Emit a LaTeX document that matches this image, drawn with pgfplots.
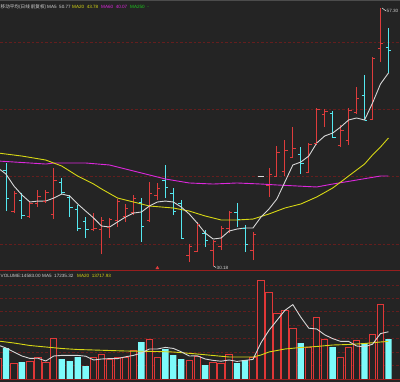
\documentclass[border=0pt]{standalone}
\usepackage{fontspec}
\setmainfont{Liberation Sans}
\newfontfamily\cjk{Noto Sans CJK SC}
\usepackage{pgfplots}
\usepackage{pgfplotstable}
\pgfplotsset{compat=1.18}
\definecolor{bg}{RGB}{36,36,36}
\definecolor{upred}{RGB}{222,60,60}
\definecolor{volred}{RGB}{225,55,55}
\definecolor{dncyan}{RGB}{84,232,240}
\definecolor{volcyan}{RGB}{124,250,250}
\definecolor{gridred}{RGB}{100,30,30}
\definecolor{sepred}{RGB}{150,30,30}
\definecolor{mawhite}{RGB}{215,215,215}
\definecolor{mayellow}{RGB}{215,215,20}
\definecolor{mamagenta}{RGB}{220,40,220}
\definecolor{magreen}{RGB}{30,200,30}
\definecolor{txt}{RGB}{210,210,210}
\definecolor{doji}{RGB}{215,215,215}

\pgfdeclareplotmark{otick}{\pgfpathmoveto{\pgfqpoint{-2.9bp}{0pt}}\pgfpathlineto{\pgfqpoint{0pt}{0pt}}\pgfusepathqstroke}
\pgfdeclareplotmark{ctick}{\pgfpathmoveto{\pgfqpoint{0pt}{0pt}}\pgfpathlineto{\pgfqpoint{2.9bp}{0pt}}\pgfusepathqstroke}

% k open high low close
\pgfplotstableread{
k o h l c
0 38.17 40.80 37.65 40.27
2 35.96 38.07 35.75 37.86
4 35.44 37.01 35.23 36.80
5 36.80 38.17 36.38 37.54
6 37.01 38.17 36.80 37.96
7 35.65 40.48 35.12 39.22
12 34.07 35.75 33.86 34.18
13 34.07 35.33 31.44 35.02
14 34.28 35.23 33.13 35.12
15 35.02 37.23 34.28 37.01
16 35.44 36.70 34.81 36.28
17 35.86 37.65 35.54 37.33
19 35.02 39.01 34.81 37.86
20 37.65 38.91 37.12 38.38
24 31.34 32.50 30.60 32.29
25 31.76 34.81 31.65 34.60
27 31.86 32.92 30.18 32.81
28 32.29 34.39 31.86 34.18
29 34.18 35.96 33.65 35.86
32 31.86 33.76 30.81 33.55
34 38.70 40.48 37.44 39.85
35 39.64 42.80 39.54 42.16
36 40.17 43.43 39.64 42.37
37 41.64 44.79 41.64 42.59
39 40.06 43.11 39.96 43.01
40 43.11 46.79 42.90 46.68
41 46.16 46.68 44.79 46.47
43 42.90 45.00 42.69 44.48
44 43.43 46.79 42.90 46.58
45 46.37 49.00 46.16 47.84
47 45.63 52.15 45.53 52.04
48 53.10 57.30 51.62 53.62
}\up
\pgfplotstableread{
k o h l c
1 40.27 41.01 35.96 37.33
3 37.12 37.86 35.12 35.54
8 39.01 39.43 37.75 37.96
9 37.44 37.65 35.33 36.38
10 36.17 36.59 33.86 34.18
11 34.91 35.33 33.13 34.07
18 36.91 37.33 32.71 34.39
21 39.22 40.80 37.33 38.49
22 37.86 38.38 35.54 35.96
23 36.80 37.12 33.02 33.13
26 33.65 33.97 32.18 32.92
30 35.86 36.80 34.28 35.12
31 34.18 34.49 31.65 32.50
38 41.95 42.69 39.85 41.01
42 46.26 46.47 43.64 43.74
46 48.16 50.26 45.53 45.53
49 53.20 55.20 50.47 52.88
}\down
\pgfplotstableread{
k o h l c
33 39.64 39.64 39.64 39.64
}\flat
\pgfplotstableread{
k v
0 40.48
1 39.85
2 38.59
3 37.65
4 36.91
5 37.01
6 37.01
7 37.33
8 37.75
9 37.54
10 36.70
11 35.96
12 35.23
13 34.39
14 34.28
15 34.81
16 35.33
17 35.75
18 35.86
19 36.49
20 36.91
21 37.01
22 36.91
23 36.38
24 35.65
25 34.70
26 33.65
27 33.02
28 33.13
29 33.86
30 34.07
31 34.18
32 34.18
33 35.33
34 36.17
35 37.23
36 39.01
37 40.80
38 41.11
39 41.74
40 43.11
41 43.85
42 44.16
43 44.79
44 45.53
45 45.74
46 45.53
47 47.31
48 49.31
49 50.47
}\mafive
\pgfplotstableread{
k v
0 42.06
3 41.74
6 41.32
8 40.69
10 39.64
12 38.80
13 38.28
15 37.33
17 36.91
19 36.49
22 36.28
24 35.96
26 35.44
28 35.02
30 35.02
32 35.12
34 35.65
36 36.28
38 36.70
40 37.44
42 38.38
44 39.64
46 40.90
47 41.85
48 42.69
49 43.64
}\matwenty
\pgfplotstableread{
k v
0 41.22
4 41.01
6 40.90
7 41.01
11 41.01
14 40.80
16 40.38
18 39.96
19 39.75
21 39.33
24 38.91
27 38.80
30 38.91
33 38.80
35 38.70
40 38.49
42 38.80
45 39.22
48 39.64
49 39.64
}\masixty
\pgfplotstableread{
k v
0 7665
2 5840
4 6570
5 8030
6 6205
7 14965
12 8030
13 9125
14 7300
15 8030
16 8030
17 10585
19 14600
20 8030
24 6935
25 8395
27 6205
28 5840
29 9125
32 8030
33 36135
34 31755
35 24090
36 25185
37 18615
39 11680
40 22630
41 14600
43 8030
44 11680
45 14235
47 16425
48 27375
}\volup
\pgfplotstableread{
k v
1 11315
3 6205
8 7300
9 6570
10 8030
11 4745
18 13505
21 10950
22 8760
23 7300
26 5110
30 5840
31 6935
38 13140
42 11680
46 13140
49 14583
}\voldn
\pgfplotstableread{
k v
0 12410
1 11315
2 9855
3 8395
4 7519
5 7592
6 6570
7 8395
8 8614
9 8614
10 8614
11 8322
12 6935
13 7300
14 7446
15 7446
16 8103
17 8614
18 9490
19 10950
20 10950
21 11534
22 11169
23 9928
24 8395
25 8468
26 7300
27 6789
28 6497
29 6935
30 6424
31 6789
32 7154
33 13213
34 17739
35 21389
36 25039
37 27156
38 22557
39 18542
40 18250
41 16133
42 14746
43 13724
44 13724
45 12045
46 11753
47 12702
48 16571
49 17235
}\volfive
\pgfplotstableread{
k v
0 13870
2 13140
4 12228
6 11680
8 11133
10 10768
12 10585
16 10220
20 10038
22 9855
25 9125
27 8578
29 8030
32 8030
33 8760
34 9855
36 10950
38 11498
40 11863
42 12410
44 12593
46 12958
48 13505
49 13718
}\voltwenty

\pgfplotsset{
  ohlc/.style={quiver={u=0,v=\thisrow{h}-\thisrow{l}}, -, line width=0.85bp},
}

\begin{document}
\begin{tikzpicture}
\path[use as bounding box] (0,0) rectangle (400bp,382bp);
\fill[bg] (0,0) rectangle (400bp,382bp);

% ---------------- price panel ----------------
\begin{axis}[at={(0,111bp)}, anchor=south west, scale only axis,
  width=400bp, height=271bp,
  xmin=0.25, xmax=50.45, ymin=29.66, ymax=58.14,
  axis line style={draw=none}, xtick=\empty,
  ytick={32.50,39.56,46.62,53.68}, yticklabels={},
  major tick length=0pt, tick style={draw=none},
  ymajorgrids, major grid style={gridred, dash pattern=on 2.5bp off 2bp, line width=0.8bp}]
  % high-low lines
  \addplot[upred, ohlc] table[x=k,y=l]{\up};
  \addplot[dncyan, ohlc] table[x=k,y=l]{\down};
  % open ticks
  \addplot[upred, only marks, mark=otick, line width=0.85bp] table[x=k,y=o]{\up};
  \addplot[dncyan, only marks, mark=otick, line width=0.85bp] table[x=k,y=o]{\down};
  \addplot[doji, only marks, mark=otick, line width=0.85bp] table[x=k,y=o]{\flat};
  % close ticks
  \addplot[upred, only marks, mark=ctick, line width=0.85bp] table[x=k,y=c]{\up};
  \addplot[dncyan, only marks, mark=ctick, line width=0.85bp] table[x=k,y=c]{\down};
  \addplot[doji, only marks, mark=ctick, line width=0.85bp] table[x=k,y=c]{\flat};
  % moving averages
  \addplot[mamagenta, line width=0.9bp, mark=none] table[x=k,y=v]{\masixty};
  \addplot[mayellow, line width=0.9bp, mark=none] table[x=k,y=v]{\matwenty};
  \addplot[mawhite, line width=0.9bp, mark=none] table[x=k,y=v]{\mafive};
  % signal marker
  \addplot[upred, only marks, mark=triangle*, mark size=1.7bp] coordinates {(20,29.98)};
\end{axis}

% ---------------- volume panel ----------------
\begin{axis}[at={(0,0)}, anchor=south west, scale only axis,
  width=400bp, height=111bp,
  xmin=0.25, xmax=50.45, ymin=-1095, ymax=39420,
  axis line style={draw=none}, xtick=\empty,
  ytick={4900,9800,14700,19600,24500,29400,34300}, yticklabels={},
  scaled y ticks=false,
  major tick length=0pt, tick style={draw=none},
  ymajorgrids, major grid style={gridred, dash pattern=on 2.5bp off 2bp, line width=0.8bp}]
  \addplot[ybar, bar width=0.8, bar shift=0pt, draw=volred, fill=bg, line width=1bp] table[x=k,y=v]{\volup};
  \addplot[ybar, bar width=0.8, bar shift=0pt, draw=none, fill=volcyan] table[x=k,y=v]{\voldn};
  \addplot[mayellow, line width=0.9bp, mark=none] table[x=k,y=v]{\voltwenty};
  \addplot[mawhite, line width=0.9bp, mark=none] table[x=k,y=v]{\volfive};
\end{axis}

% frame lines
\draw[sepred, line width=1bp] (0,111bp) -- (400bp,111bp);
\draw[sepred, line width=1bp] (0,2bp) -- (400bp,2bp);
\draw[gray!60!black, line width=1bp] (0,381.5bp) -- (400bp,381.5bp);

% annotations
\begin{scope}[font=\fontsize{4.6bp}{5.5bp}\selectfont]
  \node[anchor=west, inner sep=0, text=txt] at (0.5bp,375bp) {\cjk 移动平均(日线 前复权)};
  \node[anchor=west, inner sep=0, text=txt] at (47bp,375bp) {MA5\ \ 50.77};
  \node[anchor=west, inner sep=0, text=mayellow] at (72bp,375bp) {MA20\ \ 43.78};
  \node[anchor=west, inner sep=0, text=mamagenta] at (101bp,375bp) {MA60\ \ 40.07};
  \node[anchor=west, inner sep=0, text=magreen] at (130bp,375bp) {MA250\ \ -};
  \node[anchor=west, inner sep=0, text=txt] at (0.5bp,106bp) {VOLUME:14583.00};
  \node[anchor=west, inner sep=0, text=txt] at (42bp,106bp) {MA5\ \ 17235.32};
  \node[anchor=west, inner sep=0, text=mayellow] at (77bp,106bp) {MA20\ \ 13717.93};
  \draw[txt, line width=0.6bp] (382bp,374bp) -- (386bp,371bp);
  \node[anchor=west, inner sep=0, text=txt] at (386.5bp,371bp) {57.30};
  \draw[txt, line width=0.6bp] (213.5bp,116bp) -- (216bp,114.5bp);
  \node[anchor=west, inner sep=0, text=txt] at (216.5bp,114.5bp) {30.18};
\end{scope}
\end{tikzpicture}
\end{document}
